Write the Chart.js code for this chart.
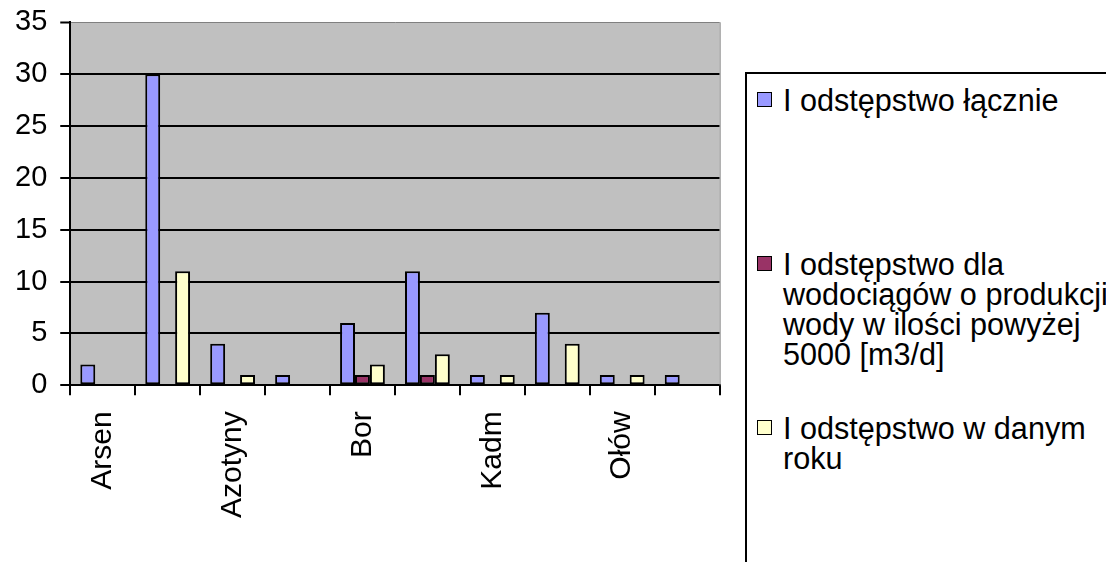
<!DOCTYPE html>
<html>
<head>
<meta charset="utf-8">
<script src="https://cdn.jsdelivr.net/npm/chart.js@4/dist/chart.umd.min.js"></script>
<style>
  html, body { margin: 0; padding: 0; background: #fff; overflow: hidden; }
  #wrap { position: relative; width: 1106px; height: 562px; overflow: hidden; font-family: "Liberation Sans", Arial, sans-serif; }
  #chartBox { position: absolute; left: 0; top: 0; width: 740px; height: 562px; }
  #legend { position: absolute; left: 745px; top: 72px; width: 420px; height: 600px; border: 2px solid #000; box-sizing: border-box; background: #fff; }
  .item { position: absolute; left: 0; width: 420px; }
  .swatch { position: absolute; left: 10px; width: 13px; height: 13px; border: 1.5px solid #000; }
  .text { position: absolute; left: 36px; font-size: 30.6px; line-height: 30px; color: #000; white-space: pre; }
</style>
</head>
<body>
<div id="wrap">
  <div id="chartBox"><canvas id="c" width="740" height="562"></canvas></div>
  <div id="legend"></div>
</div>
<script>
// Categories (only every second name is printed on the axis)
const categories = ['Arsen', '', 'Azotyny', '', 'Bor', '', 'Kadm', '', 'Ołów', ''];

// Series
const seriesNames = [
  ['I odstępstwo łącznie'],
  ['I odstępstwo dla', 'wodociągów o produkcji', 'wody w ilości powyżej', '5000 [m3/d]'],
  ['I odstępstwo w danym', 'roku']
];
const totalValues     = [2, 30, 4, 1, 6, 11, 1, 7, 1, 1];
const bigPlantValues  = [0, 0, 0, 0, 1, 1, 0, 0, 0, 0];
const yearValues      = [0, 11, 1, 0, 2, 3, 1, 4, 1, 0];

// Value axis ticks
const yTicks = [0, 5, 10, 15, 20, 25, 30, 35];

const seriesColors = ['#9999FF', '#993366', '#FFFFCC'];
const legendLineCenters = [100, 264, 428];

const plotBackground = {
  id: 'plotBackground',
  beforeDraw(chart) {
    const { ctx, chartArea: a } = chart;
    ctx.save();
    ctx.fillStyle = '#C0C0C0';
    ctx.fillRect(a.left, a.top, a.right - a.left, a.bottom - a.top);
    ctx.restore();
  },
  afterDatasetsDraw(chart) {
    const { ctx, chartArea: a } = chart;
    ctx.save();
    ctx.strokeStyle = '#808080';
    ctx.lineWidth = 1;
    ctx.beginPath();
    ctx.moveTo(a.right + 0.5, a.top);
    ctx.lineTo(a.right + 0.5, a.bottom);
    ctx.stroke();
    ctx.restore();
  }
};

const font = { family: '"Liberation Sans", Arial, sans-serif' };

const chart = new Chart(document.getElementById('c'), {
  type: 'bar',
  data: {
    labels: categories,
    datasets: [totalValues, bigPlantValues, yearValues].map((vals, i) => ({
      label: seriesNames[i].join(' '),
      data: vals,
      backgroundColor: seriesColors[i],
      borderColor: '#000',
      borderWidth: ctx => (ctx.raw ? 2 : 0),
      borderSkipped: false,
      categoryPercentage: 0.69,
      barPercentage: 1.0
    }))
  },
  options: {
    responsive: false,
    devicePixelRatio: 1,
    animation: false,
    layout: { padding: { left: 2, right: 17, top: 0, bottom: 28 } },
    plugins: { legend: { display: false }, tooltip: { enabled: false } },
    scales: {
      x: {
        grid: { drawOnChartArea: false, drawTicks: true, tickLength: 10, color: '#000', lineWidth: 2 },
        border: { color: '#000', width: 2 },
        ticks: {
          autoSkip: false,
          minRotation: 90,
          maxRotation: 90,
          padding: 16,
          color: '#000',
          font: { ...font, size: 30 }
        }
      },
      y: {
        min: 0,
        max: 35,
        afterBuildTicks(axis) { axis.ticks = yTicks.map(v => ({ value: v })); },
        grid: {
          color: ctx => (ctx.tick && ctx.tick.value === 35) ? '#808080' : '#000',
          lineWidth: ctx => (ctx.tick && ctx.tick.value === 35) ? 1 : 2,
          tickColor: '#000',
          tickWidth: 2,
          tickLength: 10
        },
        border: { color: '#000', width: 2 },
        ticks: {
          padding: 13,
          color: '#000',
          font: { ...font, size: 29, lineHeight: 0.64 }
        }
      }
    }
  },
  plugins: [plotBackground]
});

// Legend drawn from the dataset definitions
const legend = document.getElementById('legend');
const boxTop = 72 + 2;
chart.data.datasets.forEach((ds, i) => {
  const item = document.createElement('div');
  item.className = 'item';
  item.style.top = (legendLineCenters[i] - 15 - boxTop) + 'px';
  const sw = document.createElement('div');
  sw.className = 'swatch';
  sw.style.background = ds.backgroundColor;
  sw.style.top = '7px';
  const tx = document.createElement('div');
  tx.className = 'text';
  tx.textContent = seriesNames[i].join('\n');
  item.appendChild(sw);
  item.appendChild(tx);
  legend.appendChild(item);
});
</script>
</body>
</html>
